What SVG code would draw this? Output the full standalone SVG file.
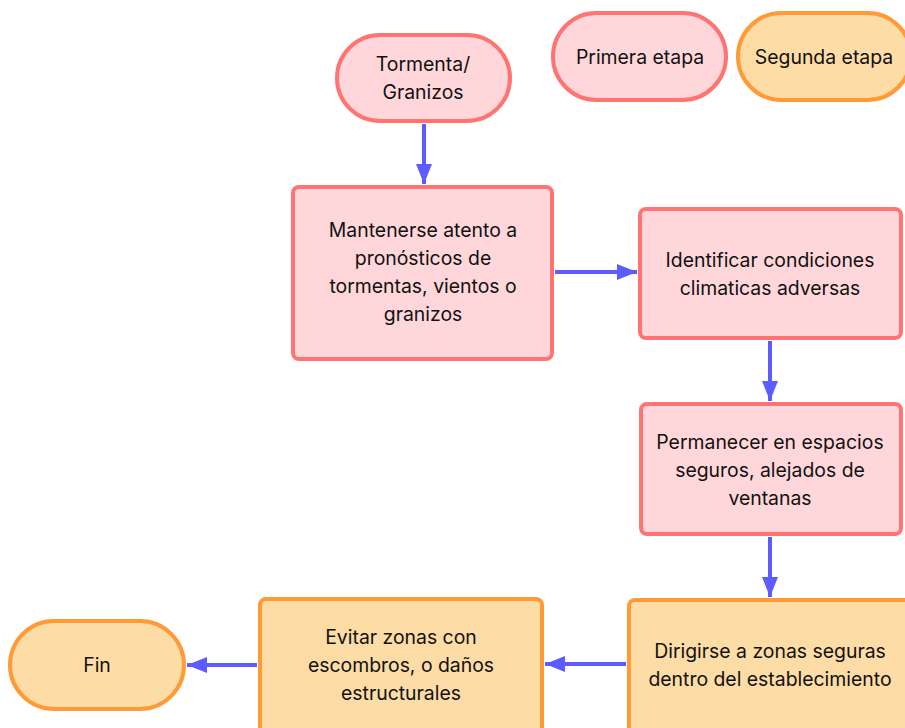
<svg xmlns="http://www.w3.org/2000/svg" width="905" height="728" viewBox="0 0 905 728">
<style>
.p{fill:#FFD7DA;stroke:#FF7373;stroke-width:4}
.o{fill:#FEDCA6;stroke:#FF9A36;stroke-width:4}
text{font-family:Inter,"Noto Sans",sans-serif;font-size:19.4px;fill:#111;text-anchor:middle}
.c path{stroke:#5C5CFF;stroke-width:4;fill:none}
</style>
<defs>
<marker id="ah" viewBox="0 0 20 16" refX="20" refY="8" markerWidth="20" markerHeight="16" orient="auto" markerUnits="userSpaceOnUse">
<path d="M0,0 L20,8 L0,16 Z" fill="#5C5CFF"/>
</marker>
</defs>
<rect width="905" height="728" fill="#fff"/>
<g class="c">
<path d="M424,124 V184" marker-end="url(#ah)"/>
<path d="M555,272 H637" marker-end="url(#ah)"/>
<path d="M770,341 V401" marker-end="url(#ah)"/>
<path d="M770,537 V597" marker-end="url(#ah)"/>
<path d="M626,664 H545" marker-end="url(#ah)"/>
<path d="M257,665 H187" marker-end="url(#ah)"/>
</g>
<g id="tormenta"><rect class="p" x="337" y="35" width="173" height="86" rx="43"/><text x="423" y="71">Tormenta/</text><text x="423" y="99">Granizos</text></g>
<g id="primera"><rect class="p" x="553" y="13" width="173" height="87" rx="43.5"/><text x="640" y="64">Primera etapa</text></g>
<g id="segunda"><rect class="o" x="738" y="13" width="173" height="87" rx="43.5"/><text x="824" y="64">Segunda etapa</text></g>
<g id="mantenerse"><rect class="p" x="293" y="187" width="259" height="172" rx="6"/><text x="423" y="237">Mantenerse atento a</text><text x="423" y="265">pronósticos de</text><text x="423" y="293">tormentas, vientos o</text><text x="423" y="321">granizos</text></g>
<g id="identificar"><rect class="p" x="640" y="209" width="261" height="129" rx="6"/><text x="770" y="267">Identificar condiciones</text><text x="770" y="295">climaticas adversas</text></g>
<g id="permanecer"><rect class="p" x="641" y="404" width="260" height="130" rx="6"/><text x="770" y="449">Permanecer en espacios</text><text x="770" y="477">seguros, alejados de</text><text x="770" y="505">ventanas</text></g>
<g id="dirigirse"><rect class="o" x="629" y="600" width="284" height="140" rx="6"/><text x="770" y="658">Dirigirse a zonas seguras</text><text x="770" y="686">dentro del establecimiento</text></g>
<g id="evitar"><rect class="o" x="260" y="599" width="282" height="140" rx="6"/><text x="401" y="644">Evitar zonas con</text><text x="401" y="672">escombros, o daños</text><text x="401" y="700">estructurales</text></g>
<g id="fin"><rect class="o" x="10" y="621" width="174" height="88" rx="44"/><text x="97" y="672">Fin</text></g>
</svg>
